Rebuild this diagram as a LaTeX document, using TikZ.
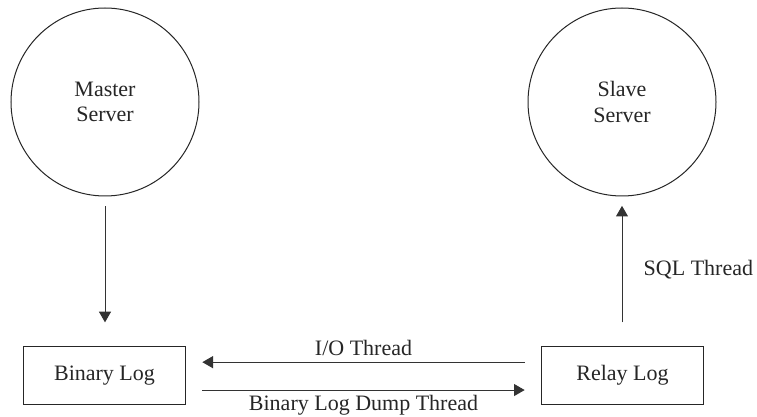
\documentclass[tikz,border=0pt]{standalone}
\usepackage{fontspec}
\setmainfont{Liberation Serif}
\usetikzlibrary{arrows.meta}
\tikzset{
  server/.style={circle,draw=black!85,line width=0.75pt,minimum size=141pt,inner sep=0pt,align=center,font=\fontsize{16.5}{19}\selectfont,text=black!85},
  logbox/.style={rectangle,draw=black!85,line width=0.75pt,minimum width=122pt,minimum height=43pt,inner sep=0pt,font=\fontsize{16.5}{19}\selectfont,text=black!85},
  arr/.style={-{Triangle[length=8pt,width=9pt]},draw=black!80,line width=0.75pt},
  lbl/.style={font=\fontsize{16.5}{19}\selectfont,text=black!85}
}
\begin{document}
\begin{tikzpicture}[x=0.75pt,y=-0.75pt]
\useasboundingbox (0,0) rectangle (757,417);
\node[server] (master) at (105,102) {Master\\Server};
\node[server] (slave) at (622,102) {Slave\\Server};
\node[logbox] (binlog) at (104.5,375.5) {Binary Log};
\node[logbox] (relay) at (622.5,375.5) {Relay Log};
\draw[arr,shorten <=7.5pt,shorten >=18pt] (master) -- (master |- binlog.north);
\draw[arr,shorten <=18pt,shorten >=7pt] (relay.north -| slave) -- (slave);
\draw[arr] ([xshift=-12pt,yshift=10pt]relay.west) -- node[lbl,above=1pt] (io) {I/O Thread} ([xshift=12pt,yshift=10pt]binlog.east);
\draw[arr] ([xshift=12pt,yshift=-10.9pt]binlog.east) -- node[lbl,below=0pt] (dump) {Binary Log Dump Thread} ([xshift=-12pt,yshift=-10.9pt]relay.west);
\node[lbl,anchor=west] (sql) at (639,270) {SQL Thread};
\end{tikzpicture}
\end{document}
